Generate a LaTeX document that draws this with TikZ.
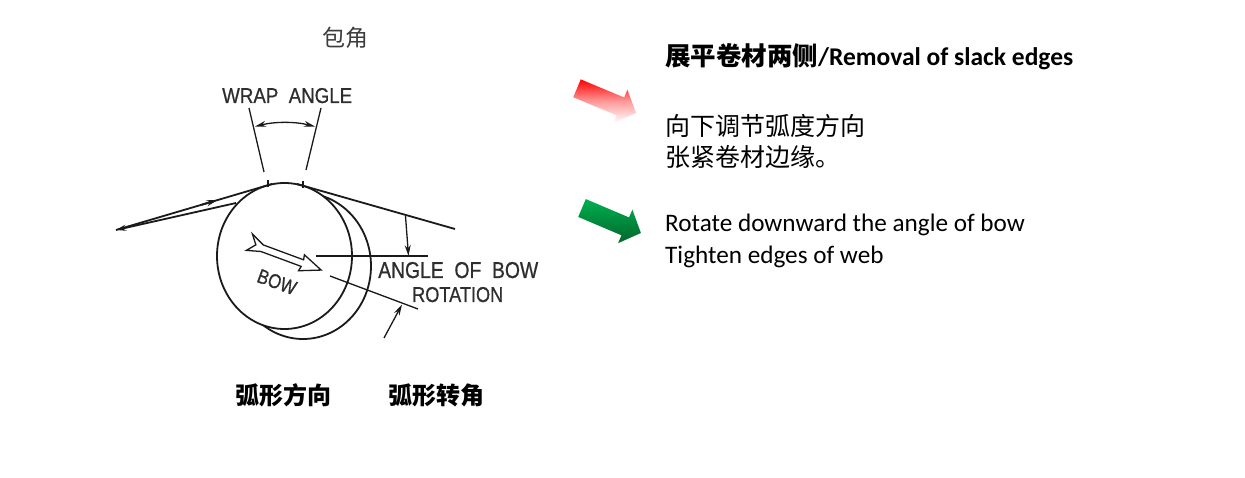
\documentclass[tikz,border=0pt]{standalone}
\usepackage{fontspec}
\setmainfont{Carlito}
\newfontfamily\cjk{Noto Sans CJK SC}
\newfontfamily\tech[FakeBold=0.8]{Liberation Sans}
\usetikzlibrary{arrows.meta,calc}
\definecolor{ink}{HTML}{1A1A1A}
\definecolor{labelgray}{HTML}{2E2E2E}
\definecolor{cngray}{HTML}{3C3C3C}
\definecolor{greenA}{HTML}{00B050}
\definecolor{greenB}{HTML}{00662B}
\begin{document}
\begin{tikzpicture}[x=1pt,y=-1pt,
  line/.style={draw=ink, line width=1.8pt},
  thinline/.style={draw=ink, line width=1.3pt},
  techlabel/.style={inner sep=0pt, text=labelgray, font=\tech},
  tipend/.style={-{Stealth[length=11pt,width=6pt]}},
  cjklabel/.style={inner sep=0pt, font=\cjk\fontsize{25}{30}\selectfont},
  entext/.style={inner sep=0pt, anchor=base west, font=\fontsize{25}{30}\selectfont}]
\useasboundingbox[fill=white] (0,0) rectangle (1245,478);

% ---------- roller ----------
\draw[line, fill=white] (303,266) ellipse [x radius=68, y radius=73];
\draw[line, fill=white] (284.5,256) ellipse [x radius=67.5, y radius=73];

% incoming web
\coordinate (inL) at (116,230);
\coordinate (inT) at (272,184);
\coordinate (inB) at (236,203);
\draw[line] (inL) -- (inT);
\draw[line, {Stealth[length=10pt,width=6pt]}-] (inL) -- (inB);
\draw[line, tipend] ($(inL)!0.55!(inT)$) -- ($(inL)!0.65!(inT)$);

% outgoing web
\coordinate (outS) at (297,184);
\coordinate (outE) at (455,229);
\draw[line] (outS) -- (outE);

% wrap angle ticks and extension lines
\draw[thinline] (268,180) -- (268,187);
\draw[thinline] (303,181) -- (303,188);
\coordinate (extLa) at (249,108); \coordinate (extLb) at (264,172);
\coordinate (extRa) at (321,108); \coordinate (extRb) at (306,170);
\draw[thinline] (extLa) -- (extLb);
\draw[thinline] (extRa) -- (extRb);
\coordinate (dimL) at (255,126.5);
\coordinate (dimR) at (315,126.5);
\draw[thinline, {Stealth[length=11pt,width=6pt]}-{Stealth[length=11pt,width=6pt]}]
  (dimL) .. controls (275,121.5) and (295,121.5) .. (dimR);

% bow reference lines
\coordinate (horA) at (316,256); \coordinate (horB) at (428,256);
\draw[thinline] (horA) -- (horB);
\coordinate (rotA) at (330,276); \coordinate (rotB) at (418,309);
\draw[thinline] (rotA) -- (rotB);
\coordinate (a1s) at (405.5,216); \coordinate (a1e) at (408.5,256);
\draw[thinline, tipend] (a1s) -- (a1e);
\coordinate (a2s) at (384,338); \coordinate (a2e) at (402,304.5);
\draw[thinline, tipend] (a2s) -- (a2e);

% bow arrow
\begin{scope}[shift={(248,243)}, rotate=-20.3]
\draw[thinline, fill=white, line join=miter]
  (78,0) -- (57,-8.5) -- (58,-3.5) -- (15,-3.5) -- (1,-10) -- (8,-1) -- (1,7.5)
  -- (15,3.5) -- (58,3.5) -- (57,8.5) -- cycle;
\end{scope}

% labels on drawing
\node[techlabel, rotate=-20] (bow) at (277,282) {\resizebox{40pt}{14pt}{BOW}};
\node[techlabel, anchor=base west] (wrap) at (222,103) {\resizebox{130pt}{15pt}{WRAP\ \ ANGLE}};
\node[techlabel, anchor=base west] (aob) at (378,278) {\resizebox{160pt}{16pt}{ANGLE\ \ OF\ \ BOW}};
\node[techlabel, anchor=base west] (rot) at (412,302) {\resizebox{91pt}{15pt}{ROTATION}};
\node[inner sep=0pt, text=cngray, font=\cjk\fontsize{23}{26}\selectfont] (baojiao) at (345,38) {包角};

\node[inner sep=0pt, font=\cjk\bfseries\fontsize{24}{28}\selectfont] (hxfx) at (283.5,395) {弧形方向};
\node[inner sep=0pt, font=\cjk\bfseries\fontsize{24}{28}\selectfont] (hxzj) at (436.5,395) {弧形转角};

% ---------- block arrows ----------
\begin{scope}[shift={(577,88.3)}, rotate=-22.7]
\shade[top color=red, bottom color=white, middle color=red!40]
  (0,-9.7) -- (47,-9.7) -- (47,-18.2) -- (64,0) -- (47,18.2) -- (47,9.7) -- (0,9.7) -- cycle;
\end{scope}
\begin{scope}[shift={(582,208)}, rotate=-23]
\shade[top color=greenA, bottom color=greenB]
  (0,-9.7) -- (47,-9.7) -- (47,-18.2) -- (64,0) -- (47,18.2) -- (47,9.7) -- (0,9.7) -- cycle;
\end{scope}

% ---------- right texts ----------
\node[entext, font=\bfseries\fontsize{25.5}{30}\selectfont] (title) at (665,66)
  {{\cjk 展平卷材两侧}/Removal of slack edges};
\node[cjklabel, anchor=west] (cn1) at (665,126) {向下调节弧度方向};
\node[cjklabel, anchor=west] (cn2) at (665,157) {张紧卷材边缘。};
\node[entext, font=\fontsize{25.2}{30}\selectfont] (en1) at (665,232) {Rotate downward the angle of bow};
\node[entext, font=\fontsize{25.2}{30}\selectfont] (en2) at (665,264) {Tighten edges of web};
\end{tikzpicture}
\end{document}
